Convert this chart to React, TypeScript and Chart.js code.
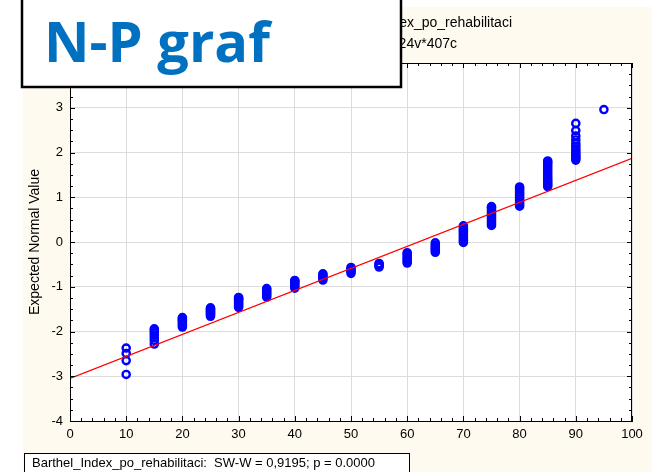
import React, { useEffect, useRef } from "react";
import { Chart, registerables } from "chart.js";

Chart.register(...registerables);

// Barthel index values (x categories)
const barthelValues = [10, 15, 20, 25, 30, 35, 40, 45, 50, 55, 60, 65, 70, 75, 80, 85, 90, 95];

// Expected normal values
const exp10 = [-2.96, -2.65, -2.49, -2.37];
const exp15 = [-2.28, -2.2, -2.14, -2.08, -2.03, -1.98, -1.94];
const exp20 = [-1.9, -1.86, -1.83, -1.79, -1.76, -1.74, -1.71, -1.69];
const exp25 = [-1.66, -1.63, -1.61, -1.59, -1.57, -1.55, -1.53, -1.51, -1.49, -1.47];
const exp30 = [-1.46, -1.43, -1.4, -1.37, -1.34, -1.31, -1.28, -1.26, -1.24];
const exp35 = [-1.23, -1.19, -1.15, -1.11, -1.07, -1.04];
const exp40 = [-1.03, -0.99, -0.95, -0.91, -0.88, -0.86];
const exp45 = [-0.85, -0.81, -0.78, -0.74, -0.71];
const exp50 = [-0.7, -0.66, -0.63, -0.6, -0.57];
const exp55 = [-0.56, -0.53, -0.5, -0.48];
const exp60 = [-0.47, -0.43, -0.39, -0.35, -0.31, -0.27, -0.24];
const exp65 = [-0.23, -0.19, -0.15, -0.11, -0.07, -0.02];
const exp70 = [-0.01, 0.03, 0.07, 0.11, 0.15, 0.19, 0.23, 0.27, 0.31, 0.36];
const exp75 = [0.37, 0.41, 0.45, 0.49, 0.53, 0.57, 0.61, 0.65, 0.69, 0.73, 0.77, 0.79];
const exp80 = [0.8, 0.84, 0.88, 0.92, 0.96, 1.0, 1.04, 1.08, 1.12, 1.16, 1.2, 1.23];
const exp85 = [1.24, 1.28, 1.32, 1.36, 1.4, 1.44, 1.49, 1.54, 1.59, 1.64, 1.69, 1.74, 1.78, 1.81];
const exp90 = [1.83, 1.87, 1.9, 1.94, 1.98, 2.03, 2.08, 2.14, 2.2, 2.28, 2.37, 2.49, 2.65];
const exp95 = [2.96];

const expectedByValue = [
  exp10, exp15, exp20, exp25, exp30, exp35, exp40, exp45, exp50,
  exp55, exp60, exp65, exp70, exp75, exp80, exp85, exp90, exp95,
];

// Fitted normal line
const fitX = [0, 100];
const fitY = [-3.05, 1.87];

// Axis ticks
const xTicks = [0, 10, 20, 30, 40, 50, 60, 70, 80, 90, 100];
const yTicks = [-4, -3, -2, -1, 0, 1, 2, 3, 4];

const titleLine1 = "Normal Probability Plot of Barthel_Index_po_rehabilitaci";
const titleLine2 = "Spreadsheet1 24v*407c";
const statText = "Barthel_Index_po_rehabilitaci:  SW-W = 0,9195; p = 0.0000";
const overlayText = "N-P graf";

const FONT = "'Liberation Sans', Arial, sans-serif";

export default function App() {
  const ref = useRef<HTMLCanvasElement | null>(null);

  useEffect(() => {
    const canvas = ref.current;
    if (!canvas) return;

    const points: { x: number; y: number }[] = [];
    barthelValues.forEach((bv, i) => {
      expectedByValue[i].forEach((e) => points.push({ x: bv, y: e }));
    });
    const fitPoints = fitX.map((x, i) => ({ x, y: fitY[i] }));

    const decor = {
      id: "decor",
      beforeDraw(chart: any) {
        const ctx = chart.ctx;
        const a = chart.chartArea;
        ctx.save();
        ctx.fillStyle = "#ffffff";
        ctx.fillRect(0, 0, chart.width, chart.height);
        ctx.fillStyle = "#fffaf0";
        ctx.fillRect(23, 7, chart.width - 23, chart.height - 7);
        ctx.fillStyle = "#ffffff";
        ctx.fillRect(a.left, a.top, a.right - a.left, a.bottom - a.top);
        // title
        ctx.fillStyle = "#000";
        ctx.font = `14px ${FONT}`;
        ctx.textAlign = "right";
        ctx.textBaseline = "alphabetic";
        ctx.fillText(titleLine1, 512, 27);
        ctx.fillText(titleLine2, 457, 48);
        ctx.restore();
      },
      afterDraw(chart: any) {
        const ctx = chart.ctx;
        const a = chart.chartArea;
        const xs = chart.scales.x;
        const ys = chart.scales.y;
        ctx.save();
        // frame
        ctx.strokeStyle = "#000";
        ctx.lineWidth = 1;
        ctx.strokeRect(a.left + 0.5, a.top + 0.5, a.right - a.left - 1, a.bottom - a.top);
        // minor/major ticks inward
        ctx.beginPath();
        for (let v = xs.min; v <= xs.max + 1e-9; v += 2) {
          const px = Math.round(xs.getPixelForValue(v)) + 0.5;
          const len = Math.abs(v % 10) < 1e-6 ? 5 : 3;
          ctx.moveTo(px, a.bottom);
          ctx.lineTo(px, a.bottom - len);
          ctx.moveTo(px, a.top);
          ctx.lineTo(px, a.top + len);
        }
        for (let v = ys.min; v <= ys.max + 1e-9; v += 0.25) {
          const py = Math.round(ys.getPixelForValue(v)) + 0.5;
          const len = Math.abs(v - Math.round(v)) < 1e-6 ? 5 : 3;
          ctx.moveTo(a.left, py);
          ctx.lineTo(a.left + len, py);
          ctx.moveTo(a.right, py);
          ctx.lineTo(a.right - len, py);
        }
        ctx.stroke();

        // statistic box
        ctx.fillStyle = "#ffffff";
        ctx.fillRect(24, 453, 385, 25);
        ctx.strokeStyle = "#000";
        ctx.lineWidth = 1;
        ctx.strokeRect(24.5, 453.5, 385, 25);
        ctx.fillStyle = "#000";
        ctx.font = `13px ${FONT}`;
        ctx.textAlign = "left";
        ctx.textBaseline = "alphabetic";
        ctx.fillText(statText, 32, 467);

        // overlay box
        ctx.fillStyle = "#ffffff";
        ctx.fillRect(22, -5, 379, 92);
        ctx.strokeStyle = "#000";
        ctx.lineWidth = 2.5;
        ctx.strokeRect(22, -5, 379, 92);
        ctx.fillStyle = "#0070c0";
        ctx.font = `bold 56px 'Open Sans', 'Noto Sans', sans-serif`;
        ctx.textAlign = "left";
        ctx.fillText(overlayText, 44, 62);
        ctx.restore();
      },
    };

    const chart = new Chart(canvas, {
      type: "scatter",
      data: {
        datasets: [
          {
            type: "line",
            data: fitPoints,
            borderColor: "#ff0000",
            borderWidth: 1.3,
            pointRadius: 0,
            showLine: true,
            order: 0,
          } as any,
          {
            data: points,
            pointStyle: "circle",
            pointRadius: 3.6,
            pointBorderWidth: 2.4,
            pointBorderColor: "#0000ff",
            pointBackgroundColor: "rgba(0,0,0,0)",
            borderColor: "#0000ff",
            backgroundColor: "rgba(0,0,0,0)",
            order: 1,
          } as any,
        ],
      },
      options: {
        animation: false,
        responsive: false,
        layout: { padding: { top: 63, right: 20, left: 0, bottom: 0 } },
        plugins: { legend: { display: false }, tooltip: { enabled: false }, title: { display: false } },
        scales: {
          x: {
            type: "linear",
            min: 0,
            max: 100,
            afterBuildTicks: (s: any) => {
              s.ticks = xTicks.map((v) => ({ value: v }));
            },
            afterFit: (s: any) => {
              s.height = 51;
            },
            ticks: { color: "#000", font: { size: 13, family: FONT }, padding: 6, maxRotation: 0 },
            grid: { color: "#dcdcdc", lineWidth: 1, drawTicks: false },
            border: { color: "#000", width: 1 },
          },
          y: {
            type: "linear",
            min: -4,
            max: 4,
            afterBuildTicks: (s: any) => {
              s.ticks = yTicks.map((v) => ({ value: v }));
            },
            afterFit: (s: any) => {
              s.width = 70;
            },
            ticks: { color: "#000", font: { size: 13, family: FONT }, padding: 7 },
            grid: { color: "#dcdcdc", lineWidth: 1, drawTicks: false },
            border: { color: "#000", width: 1 },
            title: {
              display: true,
              text: "Expected Normal Value",
              color: "#000",
              font: { size: 14, family: FONT },
              padding: { top: 27, bottom: 0 },
            },
          },
        },
      },
      plugins: [decor],
    } as any);

    return () => chart.destroy();
  }, []);

  return (
    <div style={{ position: "fixed", left: 0, top: 0, width: 652, height: 472 }}>
      <canvas ref={ref} width={652} height={472} />
    </div>
  );
}
